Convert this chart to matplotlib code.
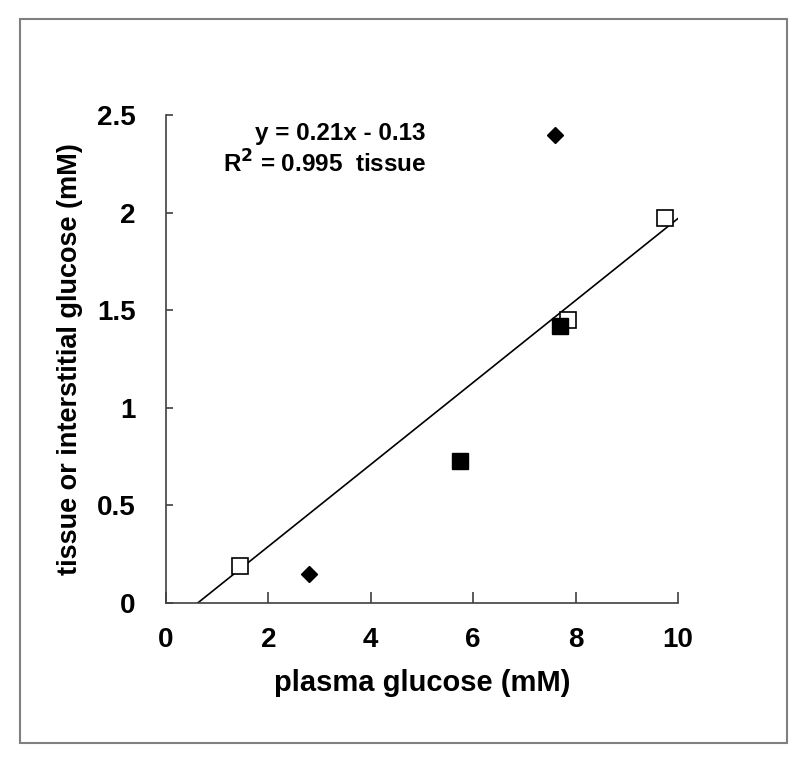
import numpy as np
import matplotlib
matplotlib.use("Agg")
import matplotlib.pyplot as plt
from matplotlib.patches import Rectangle

plt.rcParams['font.family'] = ['Liberation Sans', 'DejaVu Sans']

# data
open_sq_x = [1.45, 7.85, 9.75]
open_sq_y = [0.19, 1.45, 1.97]
fill_sq_x = [5.75, 7.7]
fill_sq_y = [0.73, 1.42]
diamond_x = [2.8, 7.6]
diamond_y = [0.15, 2.4]
slope, intercept = 0.21, -0.13
fit_x = [-intercept / slope, 10]

x_ticks = [0, 2, 4, 6, 8, 10]
y_ticks = [0, 0.5, 1, 1.5, 2, 2.5]
y_tick_labels = ['0', '0.5', '1', '1.5', '2', '2.5']

fig = plt.figure(figsize=(8, 7.62), dpi=100)
ax = fig.add_axes([166 / 800, 1 - 603 / 762, 512 / 800, 488 / 762])

# outer frame
fig.patches.append(Rectangle((20 / 800, 1 - 743 / 762), 767 / 800, 724 / 762,
                             transform=fig.transFigure, fill=False,
                             edgecolor='#808080', linewidth=1.5))

fx = np.array(fit_x)
ax.plot(fx, slope * fx + intercept, color='black', lw=1.2, zorder=2)
ax.plot(open_sq_x, open_sq_y, 's', ms=11, mfc='white', mec='black', mew=1.2, zorder=3)
ax.plot(fill_sq_x, fill_sq_y, 's', ms=11, mfc='black', mec='black', zorder=4)
ax.plot(diamond_x, diamond_y, 'D', ms=8, mfc='black', mec='black', zorder=4)

ax.set_xlim(0, 10)
ax.set_ylim(0, 2.5)
ax.set_xticks(x_ticks)
ax.set_yticks(y_ticks)
ax.set_yticklabels(y_tick_labels)
for s in ['top', 'right']:
    ax.spines[s].set_visible(False)
for s in ['left', 'bottom']:
    ax.spines[s].set_color('#404040')
    ax.spines[s].set_linewidth(1.2)
ax.tick_params(axis='x', direction='in', length=8, width=1.2, color='#404040', pad=17)
ax.tick_params(axis='y', direction='in', length=5, width=1.2, color='#404040', pad=22)
for lab in ax.get_xticklabels() + ax.get_yticklabels():
    lab.set_fontsize(20)
    lab.set_fontweight('bold')

ax.set_xlabel('plasma glucose (mM)', fontsize=21, fontweight='bold', labelpad=12)
ax.set_ylabel('tissue or interstitial glucose (mM)', fontsize=19.5, fontweight='bold', labelpad=10)

ax.text(0.34, 0.962, 'y = 0.21x - 0.13', transform=ax.transAxes, ha='center', va='center',
        fontsize=17.5, fontweight='bold')
ax.text(0.31, 0.9, r'R$^{\mathbf{2}}$ = 0.995  tissue', transform=ax.transAxes, ha='center',
        va='center', fontsize=17.5, fontweight='bold')

fig.savefig('out.png', dpi=100)
